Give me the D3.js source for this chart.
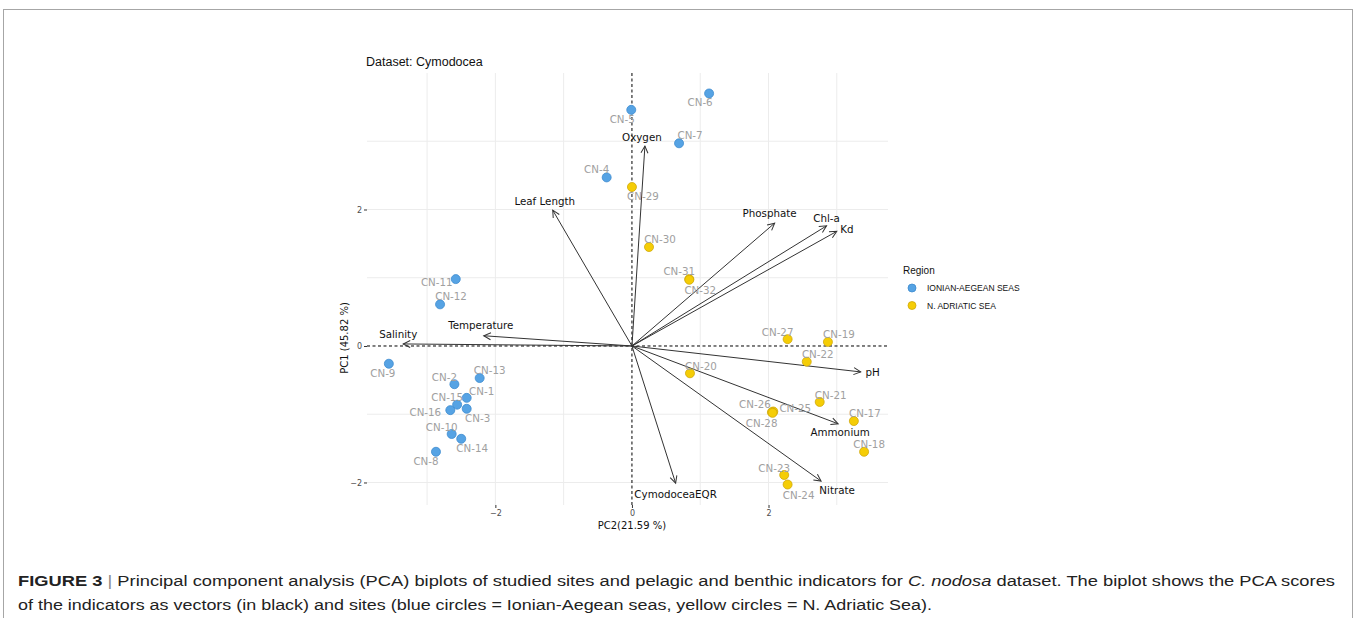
<!DOCTYPE html>
<meta charset="utf-8">
<title>Dataset: Cymodocea PCA biplot</title>
<script src="https://d3js.org/d3.v7.min.js"></script>
<style>
  body { margin: 0; background: #fff; }
  text { font-family: "DejaVu Sans", sans-serif; }
  text.sans { font-family: "Liberation Sans", Arial, sans-serif; }
</style>
<body>
<div id="viz"></div>
<script>
// site scores (PC2 on x, PC1 on y)
const sites = ["CN-1","CN-2","CN-3","CN-4","CN-5","CN-6","CN-7","CN-8","CN-9","CN-10","CN-11","CN-12","CN-13","CN-14","CN-15","CN-16",
  "CN-17","CN-18","CN-19","CN-20","CN-21","CN-22","CN-23","CN-24","CN-25","CN-26","CN-27","CN-28","CN-29","CN-30","CN-31","CN-32"];
const sitePC2 = [-2.42,-2.60,-2.42,-0.37,-0.01,1.13,0.69,-2.87,-3.56,-2.64,-2.58,-2.81,-2.23,-2.50,-2.56,-2.66,
  3.25,3.40,2.87,0.85,2.75,2.56,2.23,2.28,2.07,2.05,2.28,2.06,0.00,0.25,0.84,0.84];
const sitePC1 = [-0.76,-0.56,-0.92,2.47,3.46,3.70,2.97,-1.55,-0.26,-1.29,0.98,0.61,-0.47,-1.36,-0.86,-0.94,
  -1.10,-1.55,0.06,-0.40,-0.82,-0.23,-1.89,-2.03,-0.96,-0.97,0.10,-0.98,2.33,1.45,0.98,0.97];
const siteRegion = Array(16).fill("IONIAN-AEGEAN SEAS").concat(Array(16).fill("N. ADRIATIC SEA"));
// label placement (repel offsets, px)
const siteLabelNudge = [[15,-7],[-10,-7],[11,9],[-10,-8],[-9,9],[-9,9],[11,-8],[-10,9],[-6,9],[-10,-7],[-19,3],[11,-8],[10,-8],[11,9],[-10,-8],[-25,2],
  [11,-8],[5,-8],[11,-8],[11,-7],[11,-7],[11,-8],[-10,-7],[11,10],[22,-4],[-17,-8],[-10,-7],[-11,10],[11,9],[11,-8],[-10,-8],[11,10]];

// indicator loadings
const indicators = ["Oxygen","Leaf Length","Phosphate","Chl-a","Kd","Salinity","Temperature","pH","Ammonium","Nitrate","CymodoceaEQR"];
const indPC2 = [0.19,-1.16,2.09,2.85,3.00,-3.35,-2.17,3.35,3.02,2.77,0.64];
const indPC1 = [2.93,1.99,1.80,1.76,1.68,0.03,0.15,-0.38,-1.14,-1.98,-2.01];
const indLabelNudge = [[-3,-9],[-8,-9],[-5,-10],[0,-8],[10,-2],[-5,-10],[-3,-11],[12,0],[2,8],[16,9],[0,11]];

const regions = ["IONIAN-AEGEAN SEAS","N. ADRIATIC SEA"];
const regionFill = ["#56A3E4","#F5CD06"];
const regionStroke = ["#3E8BCF","#CFA80A"];

const xTicks = [-2, 0, 2];
const yTicks = [-2, 0, 2];
const xGrid = [-3, -2, -1, 1, 2, 3];
const yGrid = [-2, -1, 1, 2, 3];

const width = 1354, height = 618;
const svg = d3.select("#viz").append("svg")
  .attr("width", width).attr("height", height)
  .attr("viewBox", [0, 0, width, height]);

// figure frame
svg.append("rect").attr("x", 3.5).attr("y", 9.5).attr("width", 1349).attr("height", 700)
  .attr("fill", "none").attr("stroke", "#a6a6a6").attr("stroke-width", 1);

const panel = {left: 367, right: 888, top: 73, bottom: 505};
const x = d3.scaleLinear().domain([-3.88, 3.75]).range([panel.left, panel.right]);
const y = d3.scaleLinear().domain([-2.33, 4.0]).range([panel.bottom, panel.top]);
const color = d3.scaleOrdinal().domain(regions).range(regionFill);
const stroke = d3.scaleOrdinal().domain(regions).range(regionStroke);

// grid
svg.append("g").selectAll("line").data(xGrid).join("line")
  .attr("x1", d => x(d)).attr("x2", d => x(d)).attr("y1", panel.top).attr("y2", panel.bottom)
  .attr("stroke", "#ececec").attr("stroke-width", 1);
svg.append("g").selectAll("line").data(yGrid).join("line")
  .attr("y1", d => y(d)).attr("y2", d => y(d)).attr("x1", panel.left).attr("x2", panel.right)
  .attr("stroke", "#ececec").attr("stroke-width", 1);

// axes
const xAxis = svg.append("g").attr("transform", `translate(0,${panel.bottom})`)
  .call(d3.axisBottom(x).tickValues(xTicks).tickSize(3).tickPadding(2).tickFormat(d3.format("d")));
const yAxis = svg.append("g").attr("transform", `translate(${panel.left},0)`)
  .call(d3.axisLeft(y).tickValues(yTicks).tickSize(3).tickPadding(2).tickFormat(d3.format("d")));
[xAxis, yAxis].forEach(a => {
  a.select(".domain").remove();
  a.selectAll(".tick line").attr("stroke", "#333");
  a.selectAll(".tick text").attr("fill", "#4d4d4d").style("font-size", "8px")
    .style("font-family", "DejaVu Sans, sans-serif");
});

// reference lines
svg.append("line").attr("x1", panel.left).attr("x2", panel.right).attr("y1", y(0)).attr("y2", y(0))
  .attr("stroke", "#000").attr("stroke-dasharray", "3,2.5").attr("stroke-width", 1);
svg.append("line").attr("x1", x(0)).attr("x2", x(0)).attr("y1", panel.top).attr("y2", panel.bottom)
  .attr("stroke", "#000").attr("stroke-dasharray", "3,2.5").attr("stroke-width", 1);

// arrow marker
svg.append("defs").append("marker")
  .attr("id", "head").attr("viewBox", "-8 -5 10 10").attr("refX", 0).attr("refY", 0)
  .attr("markerWidth", 10).attr("markerHeight", 10).attr("markerUnits", "userSpaceOnUse")
  .attr("orient", "auto")
  .append("path").attr("d", "M-7,-3.5L0,0L-7,3.5").attr("fill", "none").attr("stroke", "#333").attr("stroke-width", 1);

// vectors
svg.append("g").selectAll("line").data(indicators).join("line")
  .attr("x1", x(0)).attr("y1", y(0))
  .attr("x2", (d, i) => x(indPC2[i])).attr("y2", (d, i) => y(indPC1[i]))
  .attr("stroke", "#333").attr("stroke-width", 1).attr("marker-end", "url(#head)");
svg.append("g").selectAll("text").data(indicators).join("text")
  .attr("x", (d, i) => x(indPC2[i]) + indLabelNudge[i][0])
  .attr("y", (d, i) => y(indPC1[i]) + indLabelNudge[i][1])
  .attr("text-anchor", "middle").attr("dominant-baseline", "central")
  .style("font-size", "10.3px").attr("fill", "#111")
  .text(d => d);

// site points
svg.append("g").selectAll("circle").data(sites).join("circle")
  .attr("cx", (d, i) => x(sitePC2[i])).attr("cy", (d, i) => y(sitePC1[i])).attr("r", 4.5)
  .attr("fill", (d, i) => color(siteRegion[i])).attr("stroke", (d, i) => stroke(siteRegion[i])).attr("stroke-width", 0.8);
svg.append("g").selectAll("text").data(sites).join("text")
  .attr("x", (d, i) => x(sitePC2[i]) + siteLabelNudge[i][0])
  .attr("y", (d, i) => y(sitePC1[i]) + siteLabelNudge[i][1])
  .attr("text-anchor", "middle").attr("dominant-baseline", "central")
  .style("font-size", "10.3px").attr("fill", "#a0a0a0")
  .text(d => d);

// titles
svg.append("text").attr("class", "sans").attr("x", 366).attr("y", 66)
  .style("font-size", "12.5px").attr("fill", "#111").text("Dataset: Cymodocea");
svg.append("text").attr("x", x(0)).attr("y", 529).attr("text-anchor", "middle")
  .style("font-size", "10px").attr("fill", "#111").text("PC2(21.59 %)");
svg.append("text").attr("transform", `translate(348,${y(0) - 8}) rotate(-90)`).attr("text-anchor", "middle")
  .style("font-size", "10px").attr("fill", "#111").text("PC1 (45.82 %)");

// legend
const legend = svg.append("g").attr("transform", "translate(903,0)");
legend.append("text").attr("class", "sans").attr("x", 0).attr("y", 274)
  .style("font-size", "10px").attr("fill", "#111").text("Region");
const items = legend.selectAll("g").data(regions).join("g")
  .attr("transform", (d, i) => `translate(0,${288 + i * 17.5})`);
items.append("circle").attr("cx", 9).attr("cy", 0).attr("r", 4)
  .attr("fill", d => color(d)).attr("stroke", d => stroke(d)).attr("stroke-width", 0.8);
items.append("text").attr("class", "sans").attr("x", 24).attr("y", 0).attr("dominant-baseline", "central")
  .style("font-size", "8.5px").attr("fill", "#111")
  .text(d => d);

// caption
const cap = svg.append("g").attr("fill", "#222");
const l1 = cap.append("text").attr("class", "sans").style("font-size", "15.5px")
  .attr("x", 18).attr("y", 586).attr("textLength", 1317).attr("lengthAdjust", "spacingAndGlyphs");
l1.append("tspan").style("font-weight", "bold").text("FIGURE 3");
l1.append("tspan").attr("fill", "#888").text(" | ");
l1.append("tspan").text("Principal component analysis (PCA) biplots of studied sites and pelagic and benthic indicators for ");
l1.append("tspan").style("font-style", "italic").text("C. nodosa");
l1.append("tspan").text(" dataset. The biplot shows the PCA scores");
cap.append("text").attr("class", "sans").style("font-size", "15.5px")
  .attr("x", 18).attr("y", 610).attr("textLength", 914).attr("lengthAdjust", "spacingAndGlyphs")
  .text("of the indicators as vectors (in black) and sites (blue circles = Ionian-Aegean seas, yellow circles = N. Adriatic Sea).");
</script>
</body>
